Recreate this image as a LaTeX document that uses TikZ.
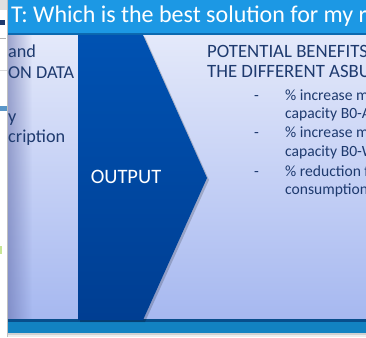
\documentclass[tikz,border=0pt]{standalone}
\usepackage{fontspec}
\setmainfont{Carlito}
\usetikzlibrary{fadings}
\definecolor{titlebar}{RGB}{28,152,228}
\definecolor{titleline}{RGB}{12,105,175}
\definecolor{paneltop}{RGB}{228,233,250}
\definecolor{panelbot}{RGB}{166,184,240}
\definecolor{chevtop}{RGB}{0,82,178}
\definecolor{chevbot}{RGB}{0,62,146}
\definecolor{band}{RGB}{18,130,194}
\definecolor{bandline}{RGB}{8,78,140}
\definecolor{navytext}{RGB}{30,58,110}
\definecolor{shadowcol}{RGB}{100,110,170}
\definecolor{stripblue}{RGB}{90,150,200}
\definecolor{stripgreen}{RGB}{200,230,150}
\tikzfading[name=fadeout, left color=transparent!0, right color=transparent!100]
\begin{document}
\begin{tikzpicture}[x=1pt,y=-1pt,
  txt/.style={anchor=base west, inner sep=0pt, text=navytext},
  lefttxt/.style={txt, font=\fontsize{18.2}{21}\selectfont},
  headtxt/.style={txt, font=\fontsize{18.8}{22}\selectfont},
  bullettxt/.style={txt, font=\fontsize{15.6}{18}\selectfont},
  titletxt/.style={anchor=base west, inner sep=0pt, text=white, font=\fontsize{24}{27}\selectfont},
  outtxt/.style={inner sep=0pt, text=white, font=\fontsize{20.5}{24}\selectfont}]
\useasboundingbox (0,0) rectangle (366,337);
\clip (0,0) rectangle (366,337);
% background
\fill[black!7] (0,0) rectangle (366,337);
% panel
\shade[top color=paneltop, bottom color=panelbot] (8,35) rectangle (366,320);
\fill[shadowcol, fill opacity=0.55, path fading=fadeout] (8,35) rectangle (32,320);
% bottom band
\fill[bandline] (8,319) rectangle (366,322);
\fill[band] (8,322) rectangle (366,333);
\fill[black!18] (8,333) rectangle (366,335);
% title bar
\fill[titlebar] (8,0) rectangle (366,33);
\fill[titleline] (8,33) rectangle (366,35);
% left strip
\fill[white] (0,0) rectangle (7.5,337);
\draw[black!25] (7.5,0) -- (7.5,337);
\fill[black!12] (0,0) rectangle (7,10);
\fill[navytext] (0,20) rectangle (5,25);
\draw[black!30] (0,38) -- (6,38);
\draw[black!15] (0,70) -- (7,70);
\fill[stripblue] (0,106) rectangle (7,111);
\fill[stripgreen] (0,246) rectangle (2,254);
% chevron
\fill[black, opacity=0.18] (80,37) -- (145,37) -- (209,180) -- (145,322) -- (80,322) -- cycle;
\shade[top color=chevtop, bottom color=chevbot] (78,35) -- (143,35) -- (207,178) -- (143,320) -- (78,320) -- cycle;
\node[outtxt] (out) at (126,177) {OUTPUT};
% title
\node[titletxt] (title) at (11,23) {T: Which is the best solution for my r};
% left texts
\node[lefttxt] (l1) at (8,57) {and};
\node[lefttxt] (l2) at (8,78) {ON DATA};
\node[lefttxt] (l3) at (8,122) {y};
\node[lefttxt] (l4) at (8,142) {cription};
% right texts
\node[headtxt] (h1) at (207,57) {POTENTIAL BENEFITS};
\node[headtxt] (h2) at (207,77) {THE DIFFERENT ASBU};
\node[bullettxt] (d1) at (254,100) {-};
\node[bullettxt] (b1) at (285,100) {\% increase m};
\node[bullettxt] (b2) at (285,118) {capacity B0-A};
\node[bullettxt] (d2) at (254,137) {-};
\node[bullettxt] (b3) at (285,137) {\% increase m};
\node[bullettxt] (b4) at (285,156) {capacity B0-W};
\node[bullettxt] (d3) at (254,176) {-};
\node[bullettxt] (b5) at (285,176) {\% reduction f};
\node[bullettxt] (b6) at (285,194) {consumption};
\end{tikzpicture}
\end{document}
